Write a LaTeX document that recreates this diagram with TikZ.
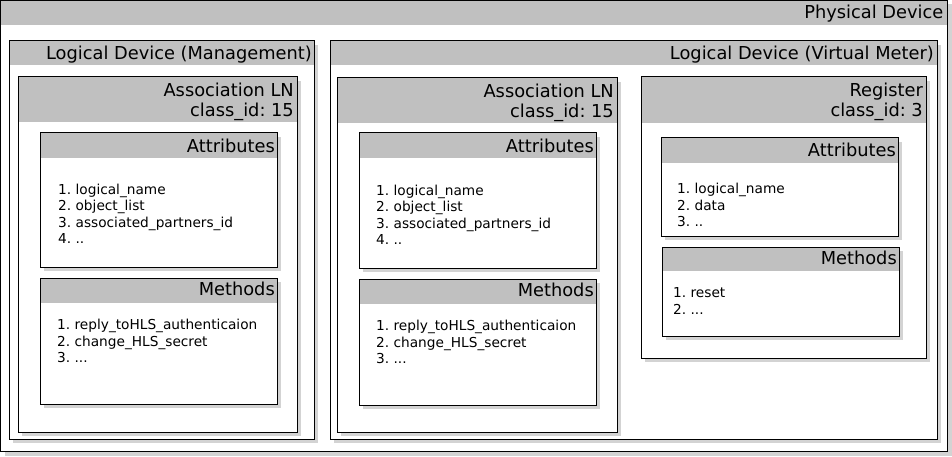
\documentclass[tikz,border=0pt]{standalone}
\usepackage{fontspec}
\setmainfont{DejaVu Sans}
\usetikzlibrary{shadows}
\definecolor{hdrgray}{HTML}{C0C0C0}
\definecolor{shadowgray}{HTML}{D3D3D3}
\begin{document}
\frenchspacing
\begin{tikzpicture}[x=1pt,y=-1pt,
  box/.style={draw=black, line width=1pt, fill=white, rectangle, inner sep=0pt, outer sep=0pt, anchor=north west,
    general shadow={fill=shadowgray, shadow xshift=4pt, shadow yshift=-4pt}},
  hdr/.style={path picture={\fill[hdrgray] (path picture bounding box.north west) rectangle ([yshift=-#1pt]path picture bounding box.north east);}},
  title/.style={font=\fontsize{17.8}{20}\selectfont, inner sep=0pt, anchor=base east, text=black},
  list/.style={font=\fontsize{13.7}{16.5}\selectfont\frenchspacing, inner sep=0pt, anchor=north west, align=left, text=black},
]
\useasboundingbox (0,0) rectangle (952,457);
% Physical device
\node[box, hdr=25, minimum width=947pt, minimum height=451pt] (pd) at (0.5,0.5) {};
\node[title] (pdt) at ([xshift=-4pt,yshift=-18.5pt]pd.north east) {Physical Device};
% Logical device management
\node[box, hdr=24, minimum width=305pt, minimum height=398pt] (mg) at (9,41) {};
\node[title] (mgt) at ([xshift=-2pt,yshift=-18.5pt]mg.north east) {Logical Device (Management)};
\node[box, hdr=45, minimum width=279pt, minimum height=355pt] (mga) at (18,77) {};
\node[title] (mgat1) at ([xshift=-3pt,yshift=-19.5pt]mga.north east) {Association LN};
\node[title] (mgat2) at ([xshift=-3pt,yshift=-39.5pt]mga.north east) {class\_id: 15};
\node[box, hdr=25, minimum width=237pt, minimum height=134pt] (mgat) at (40,133) {};
\node[title] (mgatt) at ([xshift=-2pt,yshift=-19.5pt]mgat.north east) {Attributes};
\node[list] (mgatl) at (58,183.5) {1. logical\_name\\2. object\_list\\3. associated\_partners\_id\\4. ..};
\node[box, hdr=25, minimum width=237pt, minimum height=126pt] (mgm) at (40,278) {};
\node[title] (mgmt) at ([xshift=-2pt,yshift=-17.5pt]mgm.north east) {Methods};
\node[list] (mgml) at (57,319) {1. reply\_toHLS\_authenticaion\\2. change\_HLS\_secret\\3. ...};
% Logical device virtual meter
\node[box, hdr=24, minimum width=607pt, minimum height=398pt] (vm) at (330,41) {};
\node[title] (vmt) at ([xshift=-3pt,yshift=-18.5pt]vm.north east) {Logical Device (Virtual Meter)};
\node[box, hdr=45, minimum width=280pt, minimum height=354pt] (vma) at (337,78) {};
\node[title] (vmat1) at ([xshift=-3pt,yshift=-19.5pt]vma.north east) {Association LN};
\node[title] (vmat2) at ([xshift=-3pt,yshift=-39.5pt]vma.north east) {class\_id: 15};
\node[box, hdr=25, minimum width=237pt, minimum height=135pt] (vmat) at (359,133) {};
\node[title] (vmatt) at ([xshift=-2pt,yshift=-19.5pt]vmat.north east) {Attributes};
\node[list] (vmatl) at (376,184.5) {1. logical\_name\\2. object\_list\\3. associated\_partners\_id\\4. ..};
\node[box, hdr=25, minimum width=237pt, minimum height=126pt] (vmm) at (359,279) {};
\node[title] (vmmt) at ([xshift=-2pt,yshift=-17.5pt]vmm.north east) {Methods};
\node[list] (vmml) at (376,320) {1. reply\_toHLS\_authenticaion\\2. change\_HLS\_secret\\3. ...};
% Register
\node[box, hdr=46, minimum width=285pt, minimum height=281pt] (rg) at (641,77) {};
\node[title] (rgt1) at ([xshift=-3pt,yshift=-19.5pt]rg.north east) {Register};
\node[title] (rgt2) at ([xshift=-3pt,yshift=-39.5pt]rg.north east) {class\_id: 3};
\node[box, hdr=25, minimum width=237pt, minimum height=98pt] (rgat) at (661,138) {};
\node[title] (rgatt) at ([xshift=-2pt,yshift=-19pt]rgat.north east) {Attributes};
\node[list] (rgatl) at (677,183) {1. logical\_name\\2. data\\3. ..};
\node[box, hdr=24, minimum width=237pt, minimum height=89pt] (rgm) at (662,247) {};
\node[title] (rgmt) at ([xshift=-2pt,yshift=-17.5pt]rgm.north east) {Methods};
\node[list] (rgml) at (673,287.5) {1. reset\\2. ...};
\end{tikzpicture}
\end{document}
